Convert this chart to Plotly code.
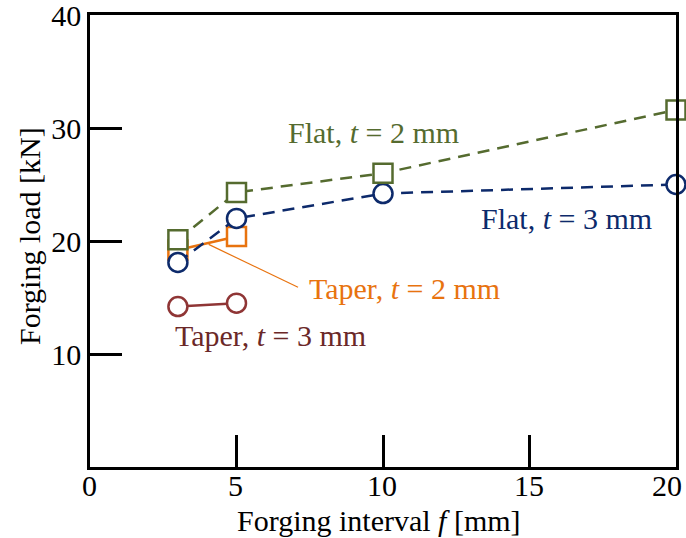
import plotly.graph_objects as go

# Forging load vs. forging interval for flat and tapered tools
interval_flat = [3, 5, 10, 20]
load_flat_t2 = [20.1, 24.3, 26.0, 31.6]
load_flat_t3 = [18.1, 22.0, 24.2, 25.0]

interval_taper = [3, 5]
load_taper_t2 = [19.2, 20.4]
load_taper_t3 = [14.2, 14.5]

x_ticks = [0, 5, 10, 15, 20]
y_ticks = [10, 20, 30, 40]

OLIVE = "#556B2F"
NAVY = "#0D2A6B"
ORANGE = "#E8730F"
BROWN = "#8F3535"
BROWN_TEXT = "#6B2828"

FONT = "Liberation Serif"
FS = 30

fig = go.Figure()


def series(x, y, color, symbol, dash):
    fig.add_trace(go.Scatter(
        x=x, y=y, mode="lines+markers", cliponaxis=False,
        line=dict(color=color, width=2.5, dash=dash),
        marker=dict(symbol=symbol, size=19, color="white",
                    line=dict(color=color, width=2.5)),
        showlegend=False, hoverinfo="skip",
    ))


series(interval_taper, load_taper_t3, BROWN, "circle", "solid")
series(interval_taper, load_taper_t2, ORANGE, "square", "solid")
series(interval_flat, load_flat_t3, NAVY, "circle", "12px,8px")
series(interval_flat, load_flat_t2, OLIVE, "square", "12px,8px")

# leader line for the Taper, t = 2 mm label
fig.add_shape(type="line", x0=4.05, y0=19.7, x1=7.1, y1=15.9,
              line=dict(color=ORANGE, width=1.2), layer="below")

labels = [
    ("Flat, <i>t</i> = 2 mm", 9.66, 29.6, OLIVE),
    ("Flat, <i>t</i> = 3 mm", 16.25, 22.0, NAVY),
    ("Taper, <i>t</i> = 2 mm", 10.72, 15.8, ORANGE),
    ("Taper, <i>t</i> = 3 mm", 6.15, 11.65, BROWN_TEXT),
]
for text, x, y, c in labels:
    fig.add_annotation(x=x, y=y, text=text, showarrow=False,
                       font=dict(family=FONT, size=FS, color=c),
                       xanchor="center", yanchor="middle")

# x tick labels; the last one is nudged left so it stays on the page
for i, v in enumerate(x_ticks):
    fig.add_annotation(x=v, y=0, xref="x", yref="paper", text=str(v),
                       showarrow=False, xanchor="center", yanchor="middle",
                       yshift=-18, borderpad=0,
                       xshift=(-9 if i == len(x_ticks) - 1 else -1),
                       font=dict(family=FONT, size=FS, color="black"))

# axis titles
fig.add_annotation(x=0.493, y=0, xref="paper", yref="paper",
                   text="Forging interval <i>f</i> [mm]", showarrow=False,
                   xanchor="center", yanchor="middle", yshift=-53,
                   borderpad=0,
                   font=dict(family=FONT, size=FS, color="black"))
fig.add_annotation(x=0, y=0.511, xref="paper", yref="paper",
                   text="Forging load [kN]", showarrow=False, textangle=-90,
                   xanchor="center", yanchor="middle", xshift=-61,
                   font=dict(family=FONT, size=FS, color="black"))

axis_common = dict(
    showgrid=False, zeroline=False, showline=True, linecolor="black",
    linewidth=2.5, mirror=True, ticks="inside", ticklen=32, tickwidth=2.5,
    tickcolor="black", automargin=False,
    tickfont=dict(family=FONT, size=FS, color="black"),
)

fig.update_xaxes(range=[0, 20], tickvals=x_ticks, showticklabels=False,
                 **axis_common)
fig.update_yaxes(range=[0, 40], tickvals=y_ticks, ticklabeloverflow="allow",
                 **axis_common)

fig.update_layout(
    width=686, height=538,
    margin=dict(l=90, r=10, t=15, b=71),
    plot_bgcolor="white", paper_bgcolor="white",
)

fig.write_html("out.html")
